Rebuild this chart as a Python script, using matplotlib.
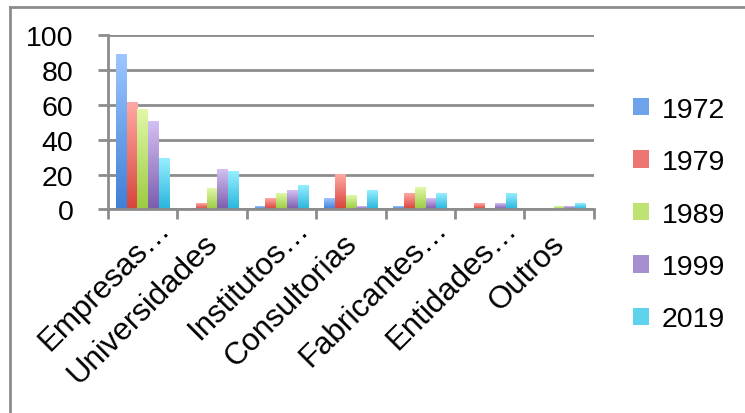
import numpy as np
import matplotlib.pyplot as plt
from matplotlib.colors import LinearSegmentedColormap, to_rgb

categories = ["Empresas…", "Universidades", "Institutos…", "Consultorias",
              "Fabricantes…", "Entidades…", "Outros"]
years = ["1972", "1979", "1989", "1999", "2019"]
v1972 = [89, 0, 1.3, 6, 1.4, 0, 0]
v1979 = [61.5, 3, 6, 20, 9, 3, 0]
v1989 = [57, 12, 9, 7.5, 12.5, 0, 1.4]
v1999 = [50.5, 23, 10.5, 1.5, 6, 3, 1.4]
v2019 = [29, 21.5, 13.5, 10.5, 9, 9, 3]
series = [v1972, v1979, v1989, v1999, v2019]
# (bottom, top) gradient colours
colors = [("#3f7fd6", "#9cc6ff"), ("#d8443c", "#ffa8a3"), ("#9ccb40", "#e0f8a8"),
          ("#7c5cae", "#d2c0f2"), ("#28b6dc", "#96eeff")]

plt.rcParams['font.family'] = ['Liberation Sans', 'DejaVu Sans']

fig = plt.figure(figsize=(7.45, 4.14), dpi=100)
# frame of the original chart area (left and top edges)
fig.add_artist(plt.Line2D([10 / 745, 10 / 745], [0, 1 - 8 / 414], transform=fig.transFigure,
                          color="#8c8c8c", linewidth=2))
fig.add_artist(plt.Line2D([10 / 745, 1], [1 - 8 / 414, 1 - 8 / 414], transform=fig.transFigure,
                          color="#8c8c8c", linewidth=2))
ax = fig.add_axes([0.145, 0.492, 0.652, 0.42])

x = np.arange(len(categories))
w = 0.155
grad = np.linspace(0, 1, 64).reshape(-1, 1)
for i, (vals, (c0, c1), yr) in enumerate(zip(series, colors, years)):
    mid = tuple((a + b) / 2 for a, b in zip(to_rgb(c0), to_rgb(c1)))
    bars = ax.bar(x + (i - 2) * w, vals, w, color=mid, label=yr, zorder=3)
    cmap = LinearSegmentedColormap.from_list("g" + yr, [c0, c1])
    for p in bars:
        if p.get_height() <= 0:
            continue
        bx, by, bw, bh = p.get_x(), p.get_y(), p.get_width(), p.get_height()
        ax.imshow(grad, cmap=cmap, origin="lower", aspect="auto",
                  extent=[bx, bx + bw, by, by + bh], zorder=3.5)

ax.set_xlim(-0.5, len(categories) - 0.5)
ax.set_ylim(0, 100)
ax.set_yticks(range(0, 101, 20))
ax.yaxis.grid(True, color="#8c8c8c", linewidth=2, zorder=0)
for s in ["top", "right"]:
    ax.spines[s].set_visible(False)
for s in ["left", "bottom"]:
    ax.spines[s].set_color("#8c8c8c")
    ax.spines[s].set_linewidth(2)
    ax.spines[s].set_zorder(5)

# tick marks between categories, labels drawn as rotated text
ax.set_xticks(np.arange(len(categories) + 1) - 0.5)
ax.set_xticklabels([])
ax.tick_params(axis="x", length=7, width=2, color="#8c8c8c")
ax.tick_params(axis="y", length=7, width=2, color="#8c8c8c", labelsize=20.5, pad=18)
for xi, cat in zip(x, categories):
    off = (28, -20) if cat.endswith("…") else (7, -35)
    ax.annotate(cat, xy=(xi, 0), xycoords=("data", "axes fraction"),
                xytext=off, textcoords="offset pixels", rotation=45,
                ha="right", va="baseline", rotation_mode="anchor",
                fontsize=22.5, annotation_clip=False)

leg = ax.legend(loc="center left", bbox_to_anchor=(1.029, -0.03), frameon=False,
                fontsize=20.5, handlelength=0.55, handleheight=0.55, handletextpad=0.45,
                labelspacing=0.93)

fig.savefig("out.png", dpi=100)
